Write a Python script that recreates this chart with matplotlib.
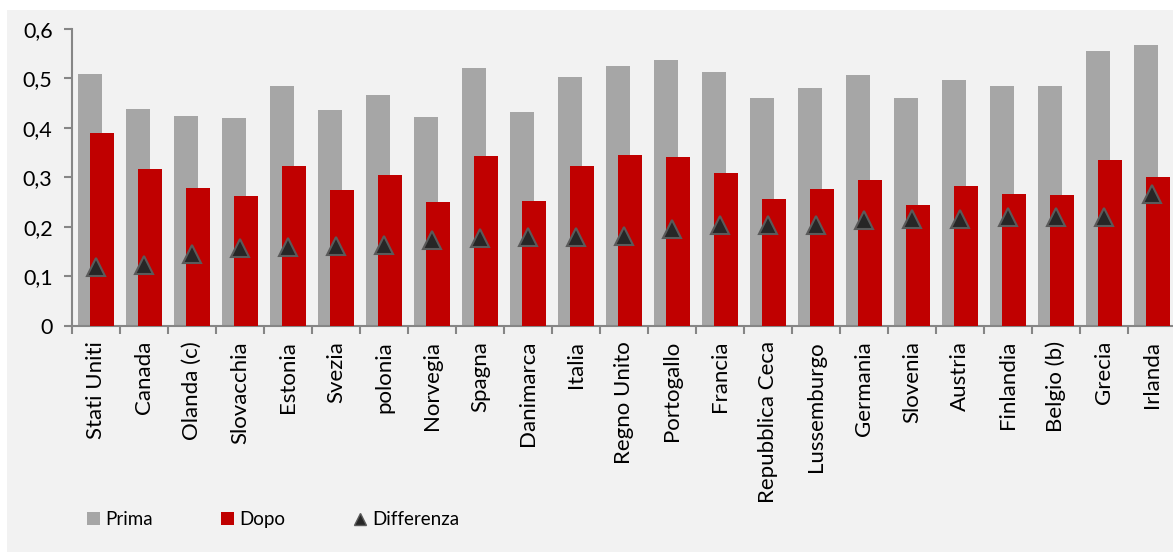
import matplotlib.pyplot as plt
from matplotlib.patches import Rectangle
from matplotlib.lines import Line2D
from matplotlib.ticker import FuncFormatter

# Valori
paesi = ["Stati Uniti", "Canada", "Olanda (c)", "Slovacchia", "Estonia", "Svezia",
         "polonia", "Norvegia", "Spagna", "Danimarca", "Italia", "Regno Unito",
         "Portogallo", "Francia", "Repubblica Ceca", "Lussemburgo", "Germania",
         "Slovenia", "Austria", "Finlandia", "Belgio (b)", "Grecia", "Irlanda"]
prima = [0.508, 0.438, 0.425, 0.421, 0.484, 0.436, 0.467, 0.423, 0.521, 0.432,
         0.503, 0.526, 0.538, 0.513, 0.461, 0.481, 0.506, 0.460, 0.497, 0.484,
         0.484, 0.556, 0.568]
dopo = [0.390, 0.316, 0.278, 0.262, 0.323, 0.274, 0.304, 0.250, 0.344, 0.253,
        0.322, 0.345, 0.341, 0.309, 0.256, 0.276, 0.294, 0.245, 0.282, 0.266,
        0.264, 0.335, 0.301]
differenza = [0.118, 0.122, 0.146, 0.158, 0.160, 0.162, 0.163, 0.174, 0.177, 0.179,
              0.180, 0.181, 0.196, 0.203, 0.204, 0.204, 0.213, 0.215, 0.216, 0.219,
              0.219, 0.220, 0.267]

grigio = "#a6a6a6"
rosso = "#c00000"
asse = "#868686"

plt.rcParams['font.family'] = ['Lato', 'DejaVu Sans']

fig = plt.figure(figsize=(11.73, 5.53), dpi=100, facecolor="white")
# sfondo grigio chiaro dell'area del grafico
fig.patches.append(Rectangle((7 / 1173, 0.002), 1.0, 1 - 10 / 553 - 0.002,
                             transform=fig.transFigure, facecolor="#f2f2f2",
                             edgecolor="none", zorder=-10))

ax = fig.add_axes([72 / 1173, 0.411, 1104 / 1173, 0.5366])
ax.set_facecolor("#f2f2f2")

x = list(range(len(paesi)))
ax.bar([i - 0.125 for i in x], prima, width=0.5, color=grigio, zorder=2)
ax.bar([i + 0.125 for i in x], dopo, width=0.5, color=rosso, zorder=3)
ax.plot(x, differenza, linestyle="none", marker="^", markersize=13,
        markerfacecolor="#262626", markeredgecolor="#5a5a5a", markeredgewidth=1.5,
        zorder=4)

ax.set_xlim(-0.5, len(paesi) - 0.5)
ax.set_ylim(0, 0.6)
ax.set_yticks([0, 0.1, 0.2, 0.3, 0.4, 0.5, 0.6])
ax.yaxis.set_major_formatter(FuncFormatter(lambda v, p: "0" if v == 0 else ("%.1f" % v).replace(".", ",")))

ax.set_xticks(x)
ax.set_xticklabels(paesi, rotation=90, fontsize=16)
ax.set_xticks([i - 0.5 for i in range(len(paesi) + 1)], minor=True)
ax.tick_params(axis="x", which="major", length=0, pad=11)
ax.tick_params(axis="x", which="minor", length=6, width=1.5, color=asse)
ax.tick_params(axis="y", length=6, width=1.5, color=asse, labelsize=15.5, pad=8)

for s in ["top", "right"]:
    ax.spines[s].set_visible(False)
for s in ["left", "bottom"]:
    ax.spines[s].set_color(asse)
    ax.spines[s].set_linewidth(1.5)

handles = [
    Rectangle((0, 0), 1, 1, facecolor=grigio),
    Rectangle((0, 0), 1, 1, facecolor=rosso),
    Line2D([], [], linestyle="none", marker="^", markersize=9,
           markerfacecolor="#262626", markeredgecolor="#5a5a5a"),
]
fig.legend(handles, ["Prima", "Dopo", "Differenza"], ncol=3, frameon=False,
           loc="center left", bbox_to_anchor=(70 / 1173, 0.06), fontsize=13.5,
           handlelength=0.7, handleheight=0.7, handletextpad=0.3, columnspacing=3.6)

fig.savefig("out.png", dpi=100, facecolor="white")
